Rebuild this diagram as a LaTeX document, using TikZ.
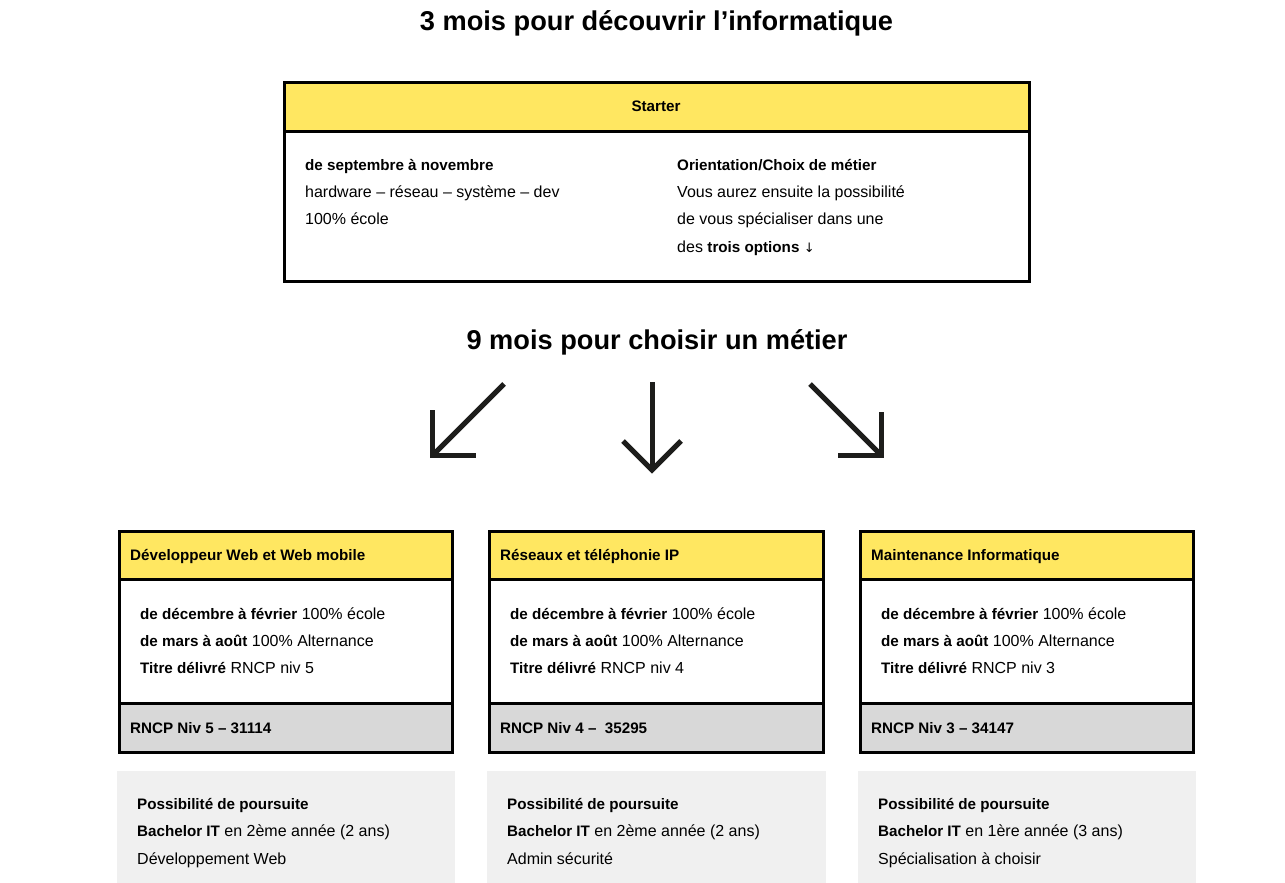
\documentclass[tikz,border=0pt]{standalone}
\usepackage{fontspec}
\setmainfont{Liberation Sans}
\newfontfamily\arrowfont{DejaVu Sans}
\definecolor{yel}{HTML}{FFE761}
\definecolor{foot}{HTML}{D8D8D8}
\definecolor{lgrey}{HTML}{F0F0F0}
\definecolor{ink}{HTML}{1D1D1B}
\newcommand{\B}[1]{{\fontsize{15.2}{18}\selectfont\bfseries #1}}
\tikzset{
  box/.style={draw=black, line width=3pt, inner sep=0pt, outer sep=0pt, anchor=north west},
  hdrbox/.style={box, fill=yel},
  bodybox/.style={box, fill=white},
  footbox/.style={box, fill=foot},
  infobox/.style={fill=lgrey, inner sep=0pt, outer sep=0pt, anchor=north west},
  txt/.style={anchor=base west, inner sep=0pt, font=\fontsize{16}{18}\selectfont},
  btxt/.style={txt, font=\fontsize{15.2}{18}\selectfont\bfseries},
  ttl/.style={font=\fontsize{27.2}{32}\selectfont\bfseries, inner sep=0pt},
  bigarrow/.style={draw=ink, line width=5pt, line join=miter, line cap=butt}
}
\begin{document}
\begin{tikzpicture}[x=1pt,y=-1pt]
\fill[white] (0,0) rectangle (1285,883);
\useasboundingbox (0,0) rectangle (1285,883);

% titles
\node[ttl] (t1) at (656.5,23) {3 mois pour découvrir l’informatique};
\node[ttl] (t2) at (657,342) {9 mois pour choisir un métier};

% starter box
\node[bodybox, minimum width=745pt, minimum height=199pt] (sb) at (284.5,82.5) {};
\node[hdrbox, minimum width=745pt, minimum height=49pt] (sh) at (284.5,82.5) {};
\node[btxt, anchor=center] (shl) at (656,106) {Starter};
\node[btxt] (s1) at (305,170) {de septembre à novembre};
\node[txt] (s2) at (305,197) {hardware – réseau – système – dev};
\node[txt] (s3) at (305,224) {100\% école};
\node[btxt] (r1) at (677,170) {Orientation/Choix de métier};
\node[txt] (r2) at (677,197) {Vous aurez ensuite la possibilité};
\node[txt] (r3) at (677,224) {de vous spécialiser dans une};
\node[txt] (r4) at (677,252) {des \B{trois options} {\arrowfont\fontsize{13}{16}\selectfont ↓}};

% arrows
\coordinate (a1s) at (504,384);
\coordinate (a1e) at (434,454);
\coordinate (a1c) at (432.5,455.5);
\draw[bigarrow] (a1s) -- (a1e);
\draw[bigarrow] (432.5,410) -- (a1c) -- (476,455.5);

\coordinate (a2s) at (652,382);
\coordinate (a2c) at (652,470);
\draw[bigarrow] (a2s) -- (a2c);
\draw[bigarrow] (623,441) -- (a2c) -- (681,441);

\coordinate (a3s) at (810,384);
\coordinate (a3e) at (880,454);
\coordinate (a3c) at (881.5,455.5);
\draw[bigarrow] (a3s) -- (a3e);
\draw[bigarrow] (881.5,412) -- (a3c) -- (838,455.5);

% three program boxes
\foreach \i/\bx/\bw/\hd/\niv/\code/\bac/\spec in {
  1/119.5/333/{Développeur Web et Web mobile}/5/{31114}/{2ème année (2 ans)}/{Développement Web},
  2/489.5/334/{Réseaux et téléphonie IP}/4/{\ 35295}/{2ème année (2 ans)}/{Admin sécurité},
  3/860.5/333/{Maintenance Informatique}/3/{34147}/{1ère année (3 ans)}/{Spécialisation à choisir}}
{
  \node[bodybox, minimum width=\bw pt, minimum height=220pt] (b\i) at (\bx,531.5) {};
  \node[hdrbox, minimum width=\bw pt, minimum height=48pt] (h\i) at (\bx,531.5) {};
  \node[footbox, minimum width=\bw pt, minimum height=48.5pt] (f\i) at (\bx,703.5) {};
  \node[btxt] (hl\i) at (\bx+10.5,560) {\hd};
  \node[txt] (l1\i) at (\bx+20.5,619) {\B{de décembre à février} 100\% école};
  \node[txt] (l2\i) at (\bx+20.5,646) {\B{de mars à août} 100\% Alternance};
  \node[txt] (l3\i) at (\bx+20.5,673) {\B{Titre délivré} RNCP niv \niv};
  \node[btxt] (fl\i) at (\bx+10.5,733) {RNCP Niv \niv{} – \code};
  \node[infobox, minimum width=\bw pt+5pt, minimum height=112pt] (g\i) at (\bx-2.5,771) {};
  \node[btxt] (g1\i) at (\bx+17.5,809) {Possibilité de poursuite};
  \node[txt] (g2\i) at (\bx+17.5,836) {\B{Bachelor IT} en \bac};
  \node[txt] (g3\i) at (\bx+17.5,864) {\spec};
}
\end{tikzpicture}
\end{document}
